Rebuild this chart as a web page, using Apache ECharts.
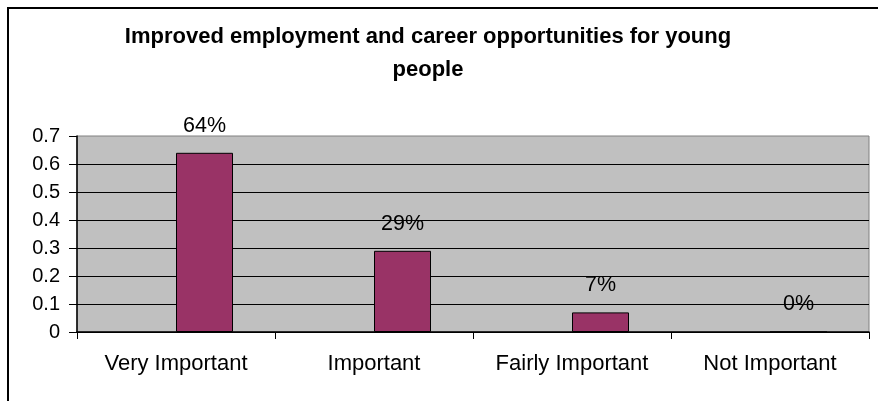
<!DOCTYPE html>
<html>
<head>
<meta charset="utf-8">
<script src="https://cdn.jsdelivr.net/npm/echarts@6/dist/echarts.min.js"></script>
<style>
  html, body { margin: 0; padding: 0; background: #fff; }
  #chart { width: 878px; height: 401px; }
</style>
</head>
<body>
<div id="chart"></div>
<script>
// Survey answers and their shares
const categories = ['Very Important', 'Important', 'Fairly Important', 'Not Important'];
const shares = [0.64, 0.29, 0.07, 0];
// Empty companion series: keeps each bar in the right half of its category slot
const spacer = [null, null, null, null];
const yTickLabels = ['0', '0.1', '0.2', '0.3', '0.4', '0.5', '0.6', '0.7'];

const FONT = '"Liberation Sans", Arial, sans-serif';

const chart = echarts.init(document.getElementById('chart'), null, { renderer: 'canvas' });

chart.setOption({
  backgroundColor: '#ffffff',
  animation: false,
  title: {
    text: 'Improved employment and career opportunities for young\npeople',
    left: 423,
    top: 15,
    textAlign: 'center',
    textStyle: {
      fontFamily: FONT,
      fontSize: 22,
      fontWeight: 'bold',
      color: '#000',
      lineHeight: 33
    }
  },
  graphic: [{
    type: 'rect',
    shape: { x: 8, y: 8, width: 900, height: 450 },
    style: { fill: 'none', stroke: '#000', lineWidth: 2 },
    silent: true,
    z: 100
  }],
  grid: {
    left: 77,
    top: 136,
    right: 9,
    bottom: 69,
    show: true,
    backgroundColor: '#C0C0C0',
    borderColor: '#808080',
    borderWidth: 1
  },
  xAxis: {
    type: 'category',
    data: categories,
    axisLine: { show: true, lineStyle: { color: '#000', width: 1.5 } },
    axisTick: { show: true, length: 7, lineStyle: { color: '#000', width: 1 } },
    axisLabel: {
      margin: 21,
      fontFamily: FONT,
      fontSize: 22,
      color: '#000',
      interval: 0
    },
    splitLine: { show: false }
  },
  yAxis: {
    type: 'value',
    min: 0,
    max: 0.7,
    interval: 0.1,
    axisLine: { show: true, lineStyle: { color: '#000', width: 1.5 } },
    axisTick: { show: true, length: 8, lineStyle: { color: '#000', width: 1 } },
    axisLabel: {
      margin: 17,
      fontFamily: FONT,
      fontSize: 20,
      color: '#000',
      formatter: function (v) {
        return yTickLabels[Math.round(v * 10)];
      }
    },
    splitLine: {
      show: true,
      showMaxLine: false,
      lineStyle: { color: '#000', width: 1 }
    }
  },
  series: [
    {
      name: 'spacer',
      type: 'bar',
      data: spacer,
      barWidth: 57,
      barGap: '0%',
      silent: true
    },
    {
      name: 'Share',
      type: 'bar',
      data: shares,
      barWidth: 57,
      barGap: '0%',
      itemStyle: {
        color: '#993366',
        borderColor: '#000',
        borderWidth: 1
      },
      label: {
        show: true,
        position: 'top',
        distance: 16,
        fontFamily: FONT,
        fontSize: 21.5,
        color: '#000',
        formatter: function (p) {
          return Math.round(p.value * 100) + '%';
        }
      }
    }
  ]
});
</script>
</body>
</html>
